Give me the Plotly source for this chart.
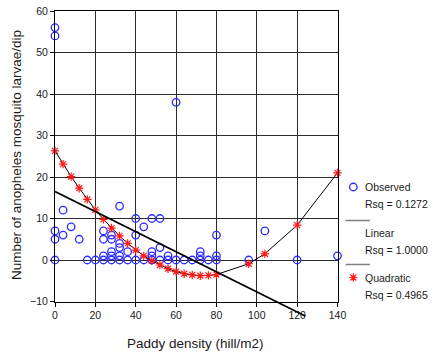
import plotly.graph_objects as go

# Observed larvae per dip at each paddy density (hill/m2)
obs_x = [0, 0, 0, 0, 0, 4, 4, 8, 12, 16, 20, 24, 24, 24, 24, 28, 28, 28, 28, 28,
         32, 32, 32, 32, 32, 36, 36, 40, 40, 40, 44, 44, 48, 48, 48, 48, 52, 52, 52,
         56, 56, 60, 60, 64, 68, 72, 72, 72, 76, 80, 80, 80, 96, 104, 120, 140]
obs_y = [56, 54, 7, 5, 0, 12, 6, 8, 5, 0, 0, 7, 5, 1, 0, 6, 5, 2, 1, 0,
         13, 4, 3, 1, 0, 2, 0, 10, 6, 0, 8, 0, 10, 2, 1, 0, 10, 3, 0,
         1, 0, 38, 0, 0, 0, 2, 1, 0, 0, 6, 1, 0, 0, 7, 0, 1]

# Quadratic fit values at each density
quad_x = [0, 4, 8, 12, 16, 20, 24, 28, 32, 36, 40, 44, 48, 52, 56, 60, 64, 68,
          72, 76, 80, 96, 104, 120, 140]
quad_y = [26.3, 23.1, 20.1, 17.3, 14.6, 12.1, 9.8, 7.7, 5.8, 4.0, 2.4, 1.0, -0.2,
          -1.2, -2.1, -2.8, -3.3, -3.6, -3.8, -3.7, -3.5, -0.9, 1.5, 8.4, 21.0]

# Linear fit line end points
lin_x = [0, 124]
lin_y = [16.5, -13.5]

x_ticks = [0, 20, 40, 60, 80, 100, 120, 140]
y_ticks = [-10, 0, 10, 20, 30, 40, 50, 60]

legend_labels = ["Observed", "Rsq = 0.1272", "Linear", "Rsq = 1.0000",
                 "Quadratic", "Rsq = 0.4965"]

FONT = "Liberation Sans, Arial, sans-serif"
TXT = "#1a1a1a"

W, H = 433, 354
ML, MR, MT, MB = 55, 5, 11, 30
PW, PH = W - ML - MR, H - MT - MB

# pixel frame of the data area
X0P, X1P = 55, 344.5
Y0P, Y1P = 301.5, 11  # y=-10 and y=60


def fx(p):
    return (p - ML) / PW


def fy(p):
    return (H - MB - p) / PH


main_xdom = [fx(X0P), fx(X1P)]
main_ydom = [fy(Y0P), 1.0]
units_per_px = 70 / (Y0P - Y1P)
y2_low = -10 - (H - MB - Y0P) * units_per_px

circle_marker = dict(symbol="circle-open", size=7.5, color="#2a2aff",
                     line=dict(width=1.3, color="#2a2aff"))
star_marker = dict(symbol="asterisk-open", size=7, color="#ff1a1a",
                   line=dict(width=1.2, color="#ff1a1a"))

fig = go.Figure()

fig.add_trace(go.Scatter(
    x=obs_x, y=obs_y, mode="markers", marker=circle_marker,
    xaxis="x", yaxis="y", cliponaxis=False, hoverinfo="skip"))

fig.add_trace(go.Scatter(
    x=quad_x, y=quad_y, mode="lines+markers",
    line=dict(color="black", width=1), marker=star_marker,
    xaxis="x", yaxis="y", cliponaxis=False, hoverinfo="skip"))

# linear fit drawn on an overlay frame so it can run past the bottom axis
fig.add_trace(go.Scatter(
    x=lin_x, y=lin_y, mode="lines",
    line=dict(color="black", width=1.8),
    xaxis="x2", yaxis="y2", hoverinfo="skip"))

# legend keys
fig.add_trace(go.Scatter(
    x=[360.7], y=[187], mode="markers", marker=circle_marker,
    xaxis="x3", yaxis="y3", cliponaxis=False, hoverinfo="skip"))
fig.add_trace(go.Scatter(
    x=[360.7], y=[277.5], mode="markers", marker=star_marker,
    xaxis="x3", yaxis="y3", cliponaxis=False, hoverinfo="skip"))

legend_y = [187, 204, 233, 250, 277.5, 295]
annotations = []
for lab, yy in zip(legend_labels, legend_y):
    annotations.append(dict(
        x=371, y=yy, xref="x3", yref="y3", text=lab, showarrow=False,
        xanchor="left", yanchor="middle",
        font=dict(family=FONT, size=10.5, color=TXT)))

annotations.append(dict(
    x=fx(199), y=fy(343.5), xref="paper", yref="paper",
    text="Paddy density (hill/m2)", showarrow=False,
    xanchor="center", yanchor="middle",
    font=dict(family=FONT, size=13.5, color=TXT)))
annotations.append(dict(
    x=fx(15), y=fy(155), xref="paper", yref="paper",
    text="Number of anopheles mosquito larvae/dip", showarrow=False,
    textangle=-90, xanchor="center", yanchor="middle",
    font=dict(family=FONT, size=13.5, color=TXT)))

shapes = []
for yy in [220.5, 264.5]:
    shapes.append(dict(type="line", xref="x3", yref="y3",
                       x0=352.7, x1=377.7, y0=yy, y1=yy,
                       line=dict(color="#808080", width=1.5)))

axis_common = dict(
    showgrid=True, gridcolor="#2a2a2a", gridwidth=1,
    showline=True, linecolor="black", linewidth=1, mirror=True,
    ticks="outside", ticklen=4, tickcolor="black", tickwidth=1,
    zeroline=False,
    tickfont=dict(family=FONT, size=10.5, color=TXT),
)

fig.update_layout(
    width=W, height=H,
    margin=dict(l=ML, r=MR, t=MT, b=MB),
    paper_bgcolor="white", plot_bgcolor="rgba(0,0,0,0)",
    showlegend=False,
    xaxis=dict(domain=main_xdom, range=[0, 140], tickvals=x_ticks,
               anchor="y", **axis_common),
    yaxis=dict(domain=main_ydom, range=[-10, 60], tickvals=y_ticks,
               anchor="x", **axis_common),
    xaxis2=dict(domain=main_xdom, range=[0, 140], visible=False, anchor="y2"),
    yaxis2=dict(domain=[0, 1], range=[y2_low, 60], visible=False, anchor="x2"),
    xaxis3=dict(domain=[main_xdom[1], 1], range=[X1P, W - MR],
                visible=False, anchor="y3"),
    yaxis3=dict(domain=[0, 1], range=[H - MB, MT], visible=False, anchor="x3"),
    annotations=annotations,
    shapes=shapes,
)

fig.write_html("out.html")
